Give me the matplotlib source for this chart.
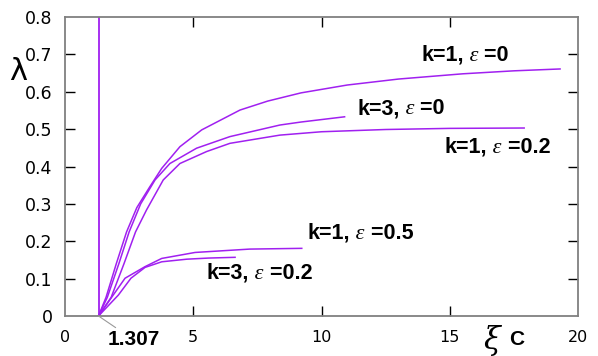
import matplotlib
matplotlib.use("Agg")
import matplotlib.pyplot as plt

# data
xi_c = 1.307

x_k1_e0 = [1.307, 1.6, 2.0, 2.4, 2.8, 3.3, 3.77, 4.48, 5.33, 6.82, 7.9, 9.2, 11.0, 13.0, 15.5, 17.5, 19.3]
y_k1_e0 = [0, 0.05, 0.14, 0.225, 0.29, 0.345, 0.395, 0.453, 0.498, 0.551, 0.575, 0.597, 0.618, 0.634, 0.648, 0.656, 0.661]

x_k3_e0 = [1.307, 1.65, 2.1, 2.5, 2.95, 3.51, 4.09, 5.13, 6.43, 8.38, 9.2, 10.9]
y_k3_e0 = [0, 0.05, 0.14, 0.225, 0.30, 0.364, 0.408, 0.449, 0.48, 0.511, 0.519, 0.533]

x_k1_e02 = [1.307, 1.8, 2.3, 2.75, 3.18, 3.83, 4.48, 5.52, 6.43, 8.38, 10.0, 12.5, 15.0, 17.9]
y_k1_e02 = [0, 0.05, 0.14, 0.225, 0.284, 0.364, 0.408, 0.44, 0.462, 0.484, 0.493, 0.499, 0.502, 0.503]

x_k1_e05 = [1.307, 1.88, 2.34, 3.12, 3.77, 5.07, 7.2, 9.23]
y_k1_e05 = [0, 0.056, 0.101, 0.132, 0.154, 0.170, 0.179, 0.181]

x_k3_e02 = [1.307, 2.08, 2.57, 3.12, 3.77, 4.75, 5.6, 6.63]
y_k3_e02 = [0, 0.056, 0.101, 0.13, 0.145, 0.152, 0.155, 0.157]

curves = [
    (x_k1_e0, y_k1_e0, "1", "0", (13.9, 0.698)),
    (x_k3_e0, y_k3_e0, "3", "0", (11.4, 0.554)),
    (x_k1_e02, y_k1_e02, "1", "0.2", (14.8, 0.452)),
    (x_k1_e05, y_k1_e05, "1", "0.5", (9.47, 0.222)),
    (x_k3_e02, y_k3_e02, "3", "0.2", (5.53, 0.115)),
]

xticks = [0, 5, 10, 15, 20]
yticks = [0, 0.1, 0.2, 0.3, 0.4, 0.5, 0.6, 0.7, 0.8]

color = "#a020f0"
bold = dict(fontsize=15.5, fontweight="bold", family="Liberation Sans")


def curve_label(ax, x, y, k, eps):
    t1 = ax.text(x, y, "k=%s," % k, va="center", ha="left", **bold)
    t2 = ax.annotate(" ε", xy=(1, 0), xycoords=t1, va="bottom", ha="left",
                     fontsize=16, style="italic", family="Liberation Serif")
    ax.annotate(" =%s" % eps, xy=(1, 0), xycoords=t2, va="bottom", ha="left", **bold)


fig = plt.figure(figsize=(5.98, 3.56), dpi=100)
ax = fig.add_axes([0.1087, 0.1124, 0.8579, 0.8398])

for xs, ys, k, eps, pos in curves:
    ax.plot(xs, ys, color=color, lw=1.1)
    curve_label(ax, pos[0], pos[1], k, eps)

ax.axvline(xi_c, color=color, lw=1.3)

ax.set_xlim(0, 20)
ax.set_ylim(0, 0.8)
ax.set_xticks(xticks)
ax.set_xticklabels([str(t) for t in xticks], fontsize=11.5)
ax.set_yticks(yticks)
ax.set_yticklabels(["0"] + ["%.1f" % t for t in yticks[1:]], fontsize=12.5)
ax.tick_params(direction="in", length=7, width=1, color="black",
               top=True, right=True, pad=9)
ax.tick_params(axis="x", pad=10)

for s in ax.spines.values():
    s.set_color("#808080")
    s.set_linewidth(1.3)

# no ticks on the corners
for t in ax.xaxis.get_major_ticks():
    if t.get_loc() in (0, 20):
        t.tick1line.set_visible(False)
        t.tick2line.set_visible(False)
for t in ax.yaxis.get_major_ticks():
    if t.get_loc() in (0, 0.8):
        t.tick1line.set_visible(False)
        t.tick2line.set_visible(False)

# critical value marker
ax.annotate("1.307", xy=(xi_c, 0), xytext=(1.66, -0.064),
            textcoords="data", va="center", ha="left",
            annotation_clip=False,
            arrowprops=dict(arrowstyle="-", color="#999999", lw=0.8,
                            shrinkA=0, shrinkB=0),
            fontsize=15, fontweight="bold", family="Liberation Sans")

ax.text(16.65, -0.066, "ξ", fontsize=22, family="DejaVu Serif", style="italic",
        va="center", ha="center", clip_on=False)
ax.text(17.3, -0.064, "C", va="center", ha="left", clip_on=False,
        fontsize=15, fontweight="bold", family="Liberation Sans")

fig.text(0.030, 0.80, "λ", fontsize=22, family="DejaVu Sans",
         va="center", ha="center")

fig.savefig("out.png", dpi=100)
